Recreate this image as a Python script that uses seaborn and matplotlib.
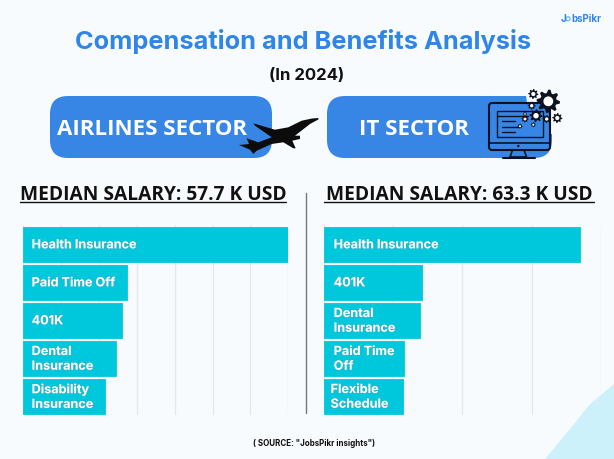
import numpy as np
import seaborn as sns
import matplotlib.pyplot as plt
import matplotlib.patheffects as pe
from matplotlib.patches import FancyBboxPatch, Polygon, Rectangle, Circle

W, H = 614, 460
BAR_COLOR = "#00c8dc"
BLUE = "#3786e5"
PAGE = "#f8fbfe"

airline_benefits = ["Health Insurance", "Paid Time Off", "401K", "Dental\nInsurance", "Disability\nInsurance"]
airline_values = [69.9, 27.5, 26, 24.5, 21.5]
it_benefits = ["Health Insurance", "401K", "Dental\nInsurance", "Paid Time\nOff", "Flexible\nSchedule"]
it_values = [73.9, 28.3, 27.9, 23.1, 22.7]

title = "Compensation and Benefits Analysis"
subtitle = "(In 2024)"
sectors = ["AIRLINES SECTOR", "IT SECTOR"]
salaries = ["MEDIAN SALARY: 57.7 K USD", "MEDIAN SALARY: 63.3 K USD"]
source = '( SOURCE: "JobsPikr insights")'

sns.set_theme(style="white")
plt.rcParams["font.family"] = ["Inter", "DejaVu Sans"]

fig = plt.figure(figsize=(W / 100, H / 100), dpi=100, facecolor=PAGE)


def px_axes(x0, y0, x1, y1):
    return fig.add_axes([x0 / W, 1 - y1 / H, (x1 - x0) / W, (y1 - y0) / H])


# background layer, in pixel coords
bg = fig.add_axes([0, 0, 1, 1], zorder=0)
bg.set_xlim(0, W)
bg.set_ylim(H, 0)
bg.axis("off")
bg.add_patch(Polygon([(545, 460), (570, 430), (590, 405), (614, 385), (614, 460)], color="#cdf1fb", lw=0))


def bar_panel(x0, x1, benefits, values, xmax, step, text_x):
    ax = px_axes(x0, 226.2, x1, 416.2)
    ax.patch.set_alpha(0)
    sns.barplot(x=values, y=benefits, color=BAR_COLOR, saturation=1, width=0.92, ax=ax, zorder=3)
    ax.set_xlim(0, xmax)
    ax.set_xticks(np.arange(0, xmax + 1, step))
    ax.set_xticklabels([])
    ax.set_yticklabels([])
    ax.set_xlabel("")
    ax.set_ylabel("")
    ax.tick_params(length=0)
    ax.grid(axis="x", color="#e4e8ec", lw=0.9)
    ax.set_axisbelow(True)
    sns.despine(ax=ax, left=True, bottom=True)
    for bar in ax.patches:
        bar.set_edgecolor(BAR_COLOR)
        bar.set_linewidth(0.6)
        bar.set_joinstyle("round")
    for i, label in enumerate(benefits):
        pos = text_x[i] if isinstance(text_x, list) else text_x
        ax.text(pos, i + 0.03, label, color="white", fontsize=9.1, fontweight="bold", va="center",
                linespacing=1.3, zorder=5,
                path_effects=[pe.withStroke(linewidth=1.2, foreground="#6f9fb0", alpha=0.35)])
    return ax


bar_panel(23.3, 288.3, airline_benefits, airline_values, 70, 10, 2.2)
bar_panel(324, 600.7, it_benefits, it_values, 80, 20, [2.8, 2.8, 2.8, 2.8, 1.9])

# top layer
top = fig.add_axes([0, 0, 1, 1], zorder=5)
top.set_xlim(0, W)
top.set_ylim(H, 0)
top.axis("off")

top.text(303.5, 41.5, title, color="#2f86e8", fontsize=18.25, fontweight="bold", ha="center", va="center")
top.text(307, 75, subtitle, color="#111111", fontsize=12, fontweight="bold", ha="center", va="center")

for x0, x1, label, cx in [(50, 272, sectors[0], 152.5), (327, 552, sectors[1], 414)]:
    top.add_patch(FancyBboxPatch((x0 + 18, 97 + 18), x1 - x0 - 36, 62 - 36, boxstyle="round,pad=18,rounding_size=18",
                                 fc=BLUE, ec="none"))
    top.text(cx, 130, label, color="white", fontsize=16, fontweight="bold", ha="center", va="center",
             family="Open Sans")

for x0, x1, label in [(20, 286, salaries[0]), (324, 594, salaries[1])]:
    top.text((x0 + x1) / 2, 195, label, color="#111111", fontsize=13.8, fontweight="bold", ha="center",
             va="center", family="Open Sans")
    top.plot([x0, x1], [202.5, 202.5], color="#111111", lw=1)

top.plot([306, 306], [194, 414], color="#777777", lw=1)
top.text(314.5, 444, source, color="#111111", fontsize=5.75, fontweight="bold", ha="center", va="center")

top.text(561, 19.5, "J", color="#2f86e8", fontsize=7, fontweight="bold", ha="left", va="center")
top.text(571, 19.5, "bsPikr", color="#2f86e8", fontsize=7, fontweight="bold", ha="left", va="center")
top.add_patch(Circle((568, 19.8), 2, fc="none", ec="#7fb6ee", lw=1))

# plane silhouette
plane = [(318.5, 119), (312, 119.5), (301.7, 121.7), (288.3, 128.3), (275, 130.7), (253.3, 124.3), (255, 126.7),
         (271.7, 138.3), (258.3, 143.3), (246.7, 139.3), (249, 145), (239, 146), (250, 150.7), (253.3, 155),
         (256.7, 151.7), (271.7, 145), (283.3, 143.3), (293.3, 149.3), (295.7, 149.3), (292.3, 141.7),
         (300, 140), (300, 136.7), (295, 136.7), (310, 125), (318.3, 120.5)]
top.add_patch(Polygon(plane, fc="#0c0c0c", ec="none"))

# monitor icon, the pill is cut away behind the gears
top.add_patch(Polygon([(526, 96), (560, 96), (560, 135), (551, 135), (551, 104), (527, 104)], fc=PAGE, ec="none"))
mon = "#0c1220"
top.add_patch(FancyBboxPatch((489, 104), 61, 47, boxstyle="round,pad=0,rounding_size=3", fc="none", ec=mon, lw=1.5))
top.plot([489, 550], [143.5, 143.5], color=mon, lw=1.2)
top.add_patch(Rectangle((497, 112), 46, 26, fc="none", ec=mon, lw=1))
top.plot([497, 528], [117, 117], color=mon, lw=1)
for y, x1 in [(122.3, 515), (127.7, 518), (132.7, 515)]:
    top.plot([502, x1], [y, y], color=mon, lw=1)
top.plot([512.5, 510, 526.5, 524], [151, 158, 158, 151], color=mon, lw=1.2)
top.plot([503, 535], [158.5, 158.5], color=mon, lw=1.5)
top.add_patch(Circle((518.3, 147), 1.2, fc=mon, ec="none"))


def gear(cx, cy, r, teeth=8):
    ang = np.linspace(0, 2 * np.pi, teeth * 4, endpoint=False)
    rad = np.where(np.arange(teeth * 4) % 4 < 2, r, r * 0.72)
    top.add_patch(Polygon(np.c_[cx + rad * np.cos(ang), cy + rad * np.sin(ang)], fc=mon, ec="none"))
    top.add_patch(Circle((cx, cy), r * 0.42, fc="white", ec="none"))


for cx, cy, r in [(548.3, 102.3, 11.7), (533.3, 95, 5), (531.7, 106.7, 4), (536, 116.7, 6.5), (525, 120, 3.5),
                  (525, 115, 2), (546.7, 120, 4), (557.3, 119, 5), (533.3, 125.7, 2.5), (520, 127.3, 2.5)]:
    gear(cx, cy, r)

fig.savefig("out.png", dpi=100, facecolor=fig.get_facecolor())
